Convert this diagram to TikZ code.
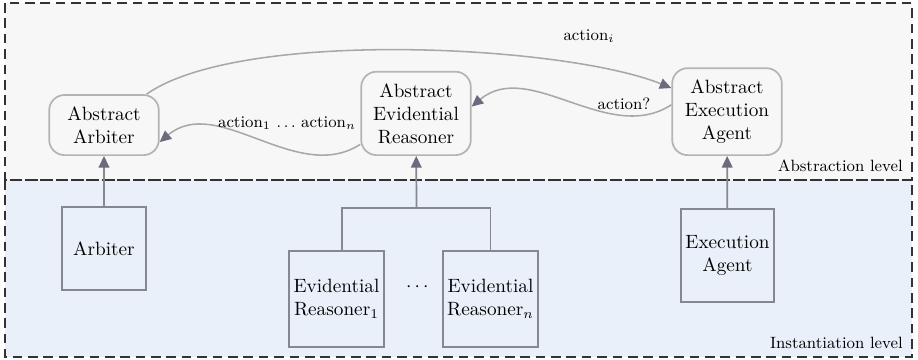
\documentclass[tikz,border=0pt]{standalone}
\usepackage{amsmath}
\usetikzlibrary{arrows.meta}
\definecolor{absfill}{HTML}{F7F7F7}
\definecolor{instfill}{HTML}{E9F0F9}
\definecolor{absline}{HTML}{B4B4B4}
\definecolor{instline}{HTML}{84888F}
\definecolor{msgline}{HTML}{A8A8A8}
\definecolor{tipcol}{HTML}{6E6A7E}
\definecolor{levelline}{HTML}{333333}

\begin{document}
\begin{tikzpicture}[x=0.52pt,y=-0.52pt,
  abs node/.style={draw=absline,line width=0.9pt,rounded corners=8pt,fill=absfill,
    align=center,inner sep=6pt,minimum width=57pt,anchor=south},
  inst node/.style={draw=instline,line width=0.9pt,fill=instfill,align=center,inner sep=2.3pt},
  level box/.style={draw=levelline,line width=0.9pt,dash pattern=on 5pt off 3pt},
  up arrow/.style={draw=instline,line width=0.9pt,-{Triangle[length=6pt,width=5.5pt,color=tipcol]}},
  msg arrow/.style={draw=msgline,line width=0.8pt,-{Triangle[length=6pt,width=5.5pt,color=tipcol]}},
  small label/.style={font=\fontsize{8.5pt}{10pt}\selectfont,inner sep=1pt}]
  \useasboundingbox (0,0) rectangle (918,360);

  % levels
  \fill[absfill] (5,3) rectangle (912,180);
  \fill[instfill] (5,180) rectangle (912,357);
  \draw[level box] (5,3) rectangle (912,180);
  \draw[level box] (5,180) rectangle (912,357);
  \node[small label,anchor=east] (abslvl) at (905,166) {Abstraction level};
  \node[small label,anchor=east] (instlvl) at (905,343) {Instantiation level};

  % abstraction level
  \node[abs node] (aarb) at (104,156) {Abstract\\Arbiter};
  \node[abs node] (aer) at (416,156) {Abstract\\Evidential\\Reasoner};
  \node[abs node] (aea) at (727,156) {Abstract\\Execution\\Agent};

  % instantiation level
  \node[inst node,minimum width=43.7pt,minimum height=43.2pt] (arb) at (104,248.5) {Arbiter};
  \node[inst node,minimum width=49.4pt,minimum height=50pt] (er1) at (336.5,299) {Evidential\\Reasoner$_1$};
  \node[inst node,minimum width=49.4pt,minimum height=50pt] (ern) at (490.5,299) {Evidential\\Reasoner$_n$};
  \node (dots) at (419,287) {$\cdots$};
  \node[inst node,minimum width=48.4pt,minimum height=48.4pt] (exa) at (727.5,255.5) {Execution\\Agent};
  \coordinate (join) at (416.5,208);

  \draw[draw=instline,line width=0.9pt] ([xshift=2.9pt]er1.north) |- (join) -| (ern.north);
  \path
   (arb) edge [up arrow] (aarb)
   (join) edge [up arrow] (aer)
   (exa) edge [up arrow] (aea);

  % messages
  \path
   (aarb.36) edge [msg arrow,out=35,in=158,looseness=0.56] (aea.157)
   (aea.173) edge [msg arrow,out=213,in=40,looseness=0.96] (aer.7)
   (aer.209) edge [msg arrow,out=213,in=40,looseness=0.96] (aarb.-17);
  \node[small label] (acti) at (589,36) {action$_i$};
  \node[small label] (actq) at (624,104) {action?};
  \node[small label] (actn) at (287,123) {action$_1$ $\ldots$ action$_n$};
\end{tikzpicture}
\end{document}
